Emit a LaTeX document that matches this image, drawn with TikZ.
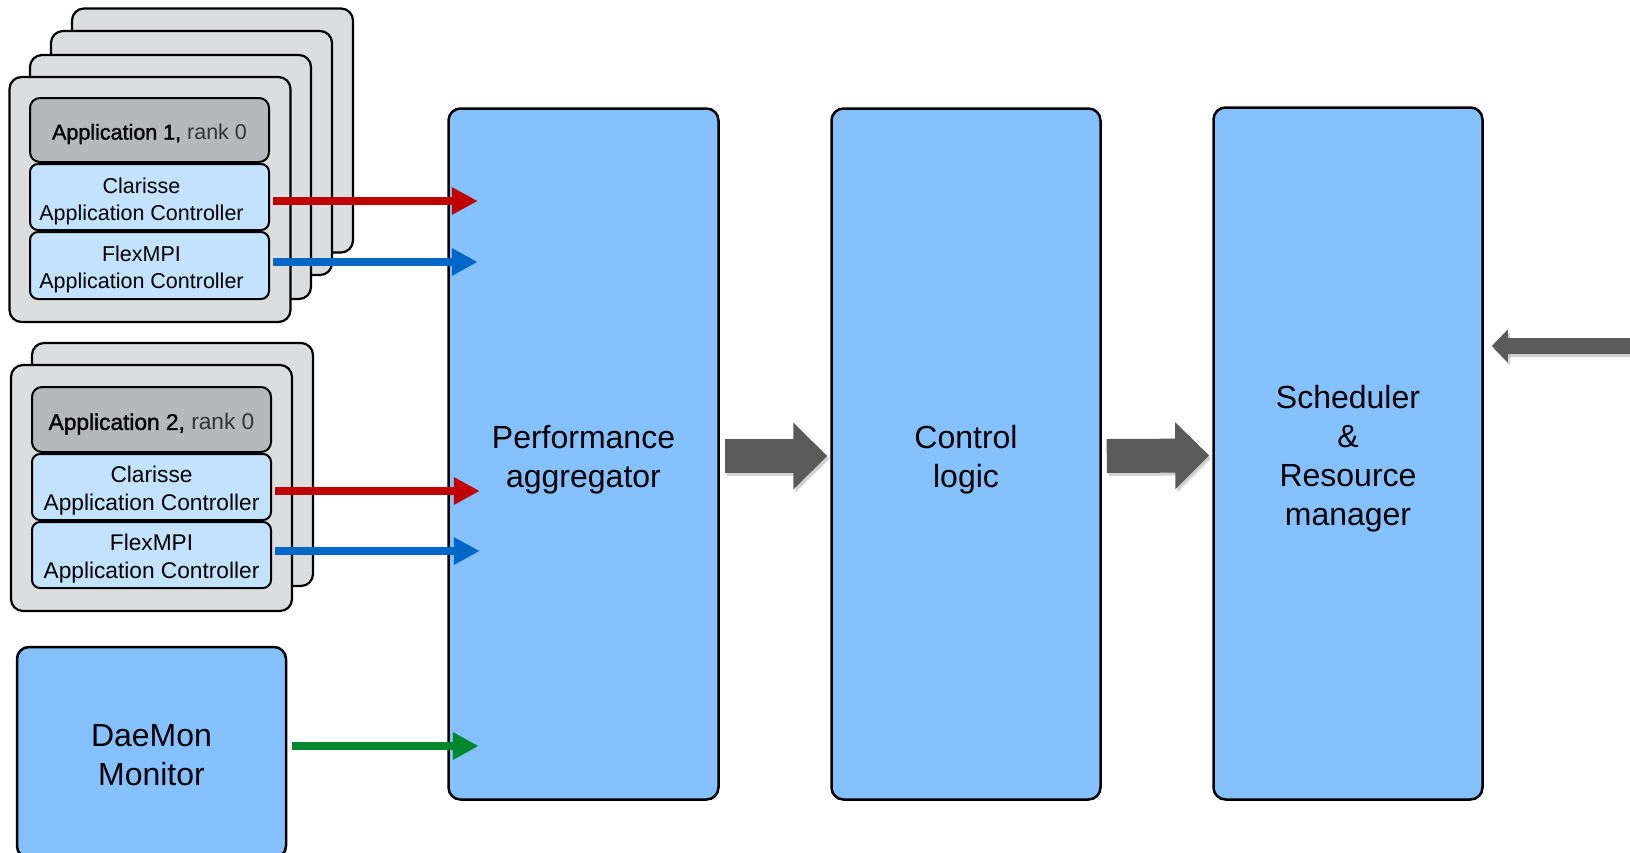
\documentclass[tikz,border=0pt]{standalone}
\usepackage{fontspec}
\setmainfont{Liberation Sans}
\setsansfont{Liberation Sans}
\newfontfamily\medsans[FakeBold=1.5]{Liberation Sans}
\usetikzlibrary{arrows.meta,calc}
\definecolor{boxblue}{HTML}{85C1FF}
\definecolor{lightblue}{HTML}{C3E2FD}
\definecolor{headgray}{HTML}{B7B8BB}
\definecolor{stackgray}{HTML}{DCDDDF}
\definecolor{arrred}{HTML}{C00000}
\definecolor{arrblue}{HTML}{0066C8}
\definecolor{arrgreen}{HTML}{00892C}
\definecolor{fatgray}{HTML}{5A5A5A}
\begin{document}
\begin{tikzpicture}[x=1pt,y=-1pt,
  bigbox/.style={draw, line width=2.5pt, rounded corners=12pt, fill=boxblue,
    inner sep=0pt},
  bigtext/.style={inner sep=0pt, align=center, font=\fontsize{32}{39}\selectfont},
  stackbox/.style={draw, line width=2.2pt, rounded corners=12pt, fill=stackgray,
    inner sep=0pt, minimum width=281pt, minimum height=244pt},
  headbox/.style={draw, line width=2pt, rounded corners=10pt, fill=headgray,
    inner sep=0pt, minimum width=239pt},
  ctlbox/.style={draw, line width=2pt, rounded corners=8pt, fill=lightblue,
    inner sep=0pt, minimum width=239pt},
  ctltext/.style={inner sep=0pt, align=center},
  thin arrow/.style={line width=8.5pt, -{Triangle[length=26pt,width=26pt]}},
  fat arrow/.style={line width=34pt, fatgray, -{Triangle[length=34pt,width=65pt]}},
  fat shadow/.style={line width=34pt, black, opacity=0.18, -{Triangle[length=34pt,width=65pt]}},
]
\clip (0,0) rectangle (1630,852);

% ---- Application 1 stack ----
\node[stackbox] (a1s4) at (212.5,130.5) {};
\node[stackbox] (a1s3) at (191.5,153) {};
\node[stackbox] (a1s2) at (170.5,177) {};
\node[stackbox, minimum height=245pt] (a1s1) at (150,199.5) {};
\node[headbox, minimum height=64pt] (head1) at (149.5,130) {};
\node[ctlbox, minimum height=66pt] (clar1) at (149.5,197) {};
\node[ctlbox, minimum height=67pt] (flex1) at (149.5,265.5) {};
\node[ctltext, font=\fontsize{21.5}{27}\selectfont] (head1t) at (149.5,134)
  {{\medsans Application 1,} \textcolor{black!80}{rank 0}};
\node[ctltext, font=\fontsize{21.5}{27}\selectfont] (clar1t) at (141.5,201)
  {Clarisse\\Application Controller};
\node[ctltext, font=\fontsize{21.5}{27}\selectfont] (flex1t) at (141.5,269)
  {FlexMPI\\Application Controller};

% ---- Application 2 stack ----
\node[stackbox, minimum height=243pt] (a2s2) at (172.5,464.5) {};
\node[stackbox, minimum height=246pt] (a2s1) at (151.5,488) {};
\node[headbox, minimum height=65pt] (head2) at (151.5,419.5) {};
\node[ctlbox, minimum height=66pt] (clar2) at (151.5,487) {};
\node[ctlbox, minimum height=66pt] (flex2) at (151.5,555) {};
\node[ctltext, font=\fontsize{22.7}{28}\selectfont] (head2t) at (151.5,424)
  {{\medsans Application 2,} \textcolor{black!80}{rank 0}};
\node[ctltext, font=\fontsize{22.7}{28}\selectfont] (clar2t) at (151.5,491)
  {Clarisse\\Application Controller};
\node[ctltext, font=\fontsize{22.7}{28}\selectfont] (flex2t) at (151.5,559)
  {FlexMPI\\Application Controller};

% ---- DaeMon monitor ----
\node[bigbox, minimum width=269pt, minimum height=211pt] (daemon) at (151.5,752.5) {};
\node[bigtext] (daemont) at (151.5,755) {DaeMon\\Monitor};

% ---- Main boxes ----
\node[bigbox, minimum width=270pt, minimum height=691pt] (agg) at (583.5,454) {};
\node[bigtext] (aggt) at (583.5,460) {Performance\\aggregator};
\node[bigbox, minimum width=269pt, minimum height=691pt] (ctrl) at (966,454) {};
\node[bigtext] (ctrlt) at (966,460) {Control\\logic};
\node[bigbox, minimum width=269pt, minimum height=692pt] (sched) at (1348,453.5) {};
\node[bigtext] (schedt) at (1348,458.5) {Scheduler\\\&\\Resource\\manager};

% ---- thin coloured arrows ----
\draw[thin arrow, arrred]   ($(clar1.east)+(3,4)$)   -- ($(agg.west |- clar1.east)+(30.5,4)$);
\draw[thin arrow, arrblue]  ($(flex1.east)+(3,-3.5)$) -- ($(agg.west |- flex1.east)+(30.5,-3.5)$);
\draw[thin arrow, arrred]   ($(clar2.east)+(3,4)$)   -- ($(agg.west |- clar2.east)+(32.5,4)$);
\draw[thin arrow, arrblue]  ($(flex2.east)+(3,-4)$)  -- ($(agg.west |- flex2.east)+(32.5,-4)$);
\draw[thin arrow, arrgreen] ($(daemon.east)+(5,-6.5)$) -- ($(agg.west |- daemon.east)+(31.5,-6.5)$);

% ---- fat grey arrows ----
\draw[fat shadow] ($(agg.east)+(7,5)$) -- ($(ctrl.west)+(-1,5)$);
\draw[fat arrow]  ($(agg.east)+(5,2)$) -- ($(ctrl.west)+(-3,2)$);
\draw[fat shadow] ($(ctrl.east)+(7,5)$) -- ($(sched.west)+(-1,5)$);
\draw[fat arrow]  ($(ctrl.east)+(5,2)$) -- ($(sched.west)+(-3,2)$);

\coordinate (ext) at (1632,346);
\draw[line width=16pt, black, opacity=0.18, -{Triangle[length=16pt,width=32pt]}]
  ($(ext)+(2,3)$) -- ($(sched.east |- ext)+(10,3)$);
\draw[line width=16pt, fatgray, -{Triangle[length=16pt,width=32pt]}]
  (ext) -- ($(sched.east |- ext)+(8,0)$);
\end{tikzpicture}
\end{document}
